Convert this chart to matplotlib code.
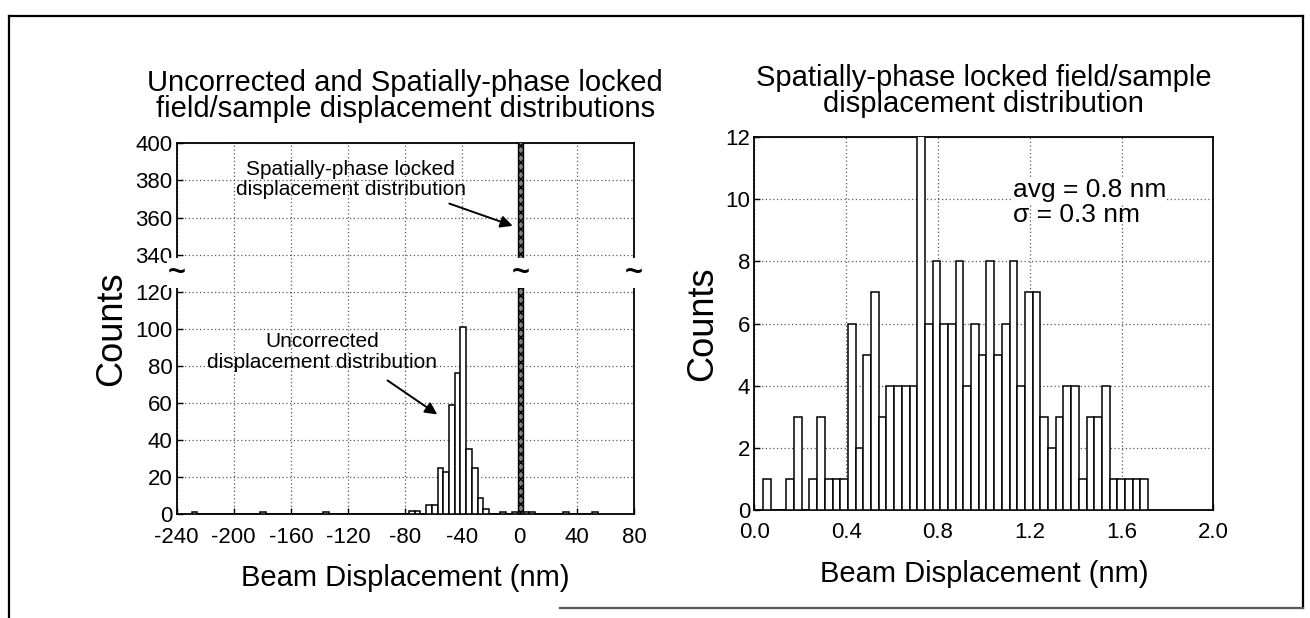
import numpy as np
import matplotlib
matplotlib.use('Agg')
import matplotlib.pyplot as plt
from matplotlib.lines import Line2D

plt.rcParams['font.family'] = ['Liberation Sans', 'DejaVu Sans']

# ---------------- data ----------------
# Left panel: uncorrected displacement histogram (4 nm bins starting at -229.4 nm)
unc_bin_start = -229.4
unc_bin_width = 4.0
unc_counts = [1, 0, 0, 0, 0, 0, 0, 0, 0, 0,
              0, 0, 1, 0, 0, 0, 0, 0, 0, 0,
              0, 0, 0, 1, 0, 0, 0, 0, 0, 0,
              0, 0, 0, 0, 0, 0, 0, 0, 2, 2,
              0, 5, 5, 25, 23, 59, 76, 101, 35, 25,
              9, 3, 0, 0, 1, 0, 1, 0, 1, 1,
              0, 0, 0, 0, 0, 1, 0, 0, 0, 0,
              1]
# spatially-phase locked distribution in the same 4 nm binning (off scale)
locked_bin_left = -1.4
locked_count = 430

left_xticks = [-240, -200, -160, -120, -80, -40, 0, 40, 80]
left_yticks = [0, 20, 40, 60, 80, 100, 120, 340, 360, 380, 400]

# Right panel: spatially-phase locked histogram (50 bins)
lock_bin_start = 0.039
lock_bin_end = 1.716
lock_counts = [1, 0, 0, 1, 3, 0, 1, 3, 1, 1,
               1, 6, 2, 5, 7, 3, 4, 4, 4, 4,
               14, 6, 8, 6, 6, 8, 4, 6, 5, 8,
               5, 6, 8, 4, 7, 7, 3, 2, 3, 4,
               4, 1, 3, 3, 4, 1, 1, 1, 1, 1]
right_xticks = [0.0, 0.4, 0.8, 1.2, 1.6, 2.0]
right_yticks = [0, 2, 4, 6, 8, 10, 12]

# ---------------- figure ----------------
W, H = 1310, 618
fig = plt.figure(figsize=(W / 100, H / 100), dpi=100)


def px_axes(x0, y0, x1, y1):
    return fig.add_axes([x0 / W, 1 - y1 / H, (x1 - x0) / W, (y1 - y0) / H])


grid_kw = dict(color='0.35', linestyle=(0, (1, 2)), linewidth=0.9)
tick_fs = 16
label_fs = 21
ylabel_fs = 26
title_fs = 21


def style(ax):
    for s in ax.spines.values():
        s.set_linewidth(1.3)
    ax.tick_params(direction='in', length=4, width=1, labelsize=tick_fs)
    ax.tick_params(axis='x', pad=9)
    ax.tick_params(axis='y', pad=3)
    ax.grid(True, **grid_kw)
    ax.set_axisbelow(True)


# piecewise (broken) y scale for left panel
def fwd(y):
    y = np.asarray(y, dtype=float)
    return np.where(y <= 120, y,
                    np.where(y >= 340, y - 200, 120 + (y - 120) * 20.0 / 220.0))


def inv(p):
    p = np.asarray(p, dtype=float)
    return np.where(p <= 120, p,
                    np.where(p >= 140, p + 200, 120 + (p - 120) * 220.0 / 20.0))


# ---- left panel ----
axL = px_axes(176.5, 143.3, 634, 514.3)
axL.set_yscale('function', functions=(fwd, inv))
axL.set_xlim(-240, 80)
axL.set_ylim(0, 400)
axL.set_xticks(left_xticks)
axL.set_yticks(left_yticks)
axL.set_xticklabels([str(v) for v in left_xticks])
axL.set_yticklabels([str(v) for v in left_yticks])
axL.yaxis.set_minor_locator(matplotlib.ticker.NullLocator())
style(axL)

unc_left = unc_bin_start + unc_bin_width * np.arange(len(unc_counts))
axL.bar(unc_left, unc_counts, width=unc_bin_width, align='edge',
        facecolor='white', edgecolor='black', linewidth=1.1, zorder=3)
axL.bar([locked_bin_left], [locked_count], width=unc_bin_width, align='edge',
        facecolor='0.5', edgecolor='black', hatch='xxxx', linewidth=1.0, zorder=3)

# break marks
brk_y = float(inv(130))
for bx in (-240, locked_bin_left + unc_bin_width / 2, 80):
    axL.text(bx, brk_y, '~', fontsize=22, fontweight='bold', ha='center', va='center',
             clip_on=False, zorder=6,
             bbox=dict(facecolor='white', edgecolor='none', pad=0.2))

axL.set_xlabel('Beam Displacement (nm)', fontsize=label_fs, labelpad=12)
axL.set_ylabel('Counts', fontsize=ylabel_fs, labelpad=4)
axL.set_title('Uncorrected and Spatially-phase locked\nfield/sample displacement distributions',
              fontsize=title_fs, linespacing=0.92, pad=19)

ann_fs = 15
axL.text(-118, 383, 'Spatially-phase locked', fontsize=ann_fs, ha='center', va='baseline', zorder=5)
axL.text(-118, 372, 'displacement distribution', fontsize=ann_fs, ha='center', va='baseline', zorder=5)
axL.annotate('', xy=(-3, 355), xytext=(-51, 368),
             arrowprops=dict(arrowstyle='-|>', color='black', lw=1.4, mutation_scale=18), zorder=5)
axL.text(-138, 90, 'Uncorrected', fontsize=ann_fs, ha='center', va='baseline', zorder=5)
axL.text(-138, 79, 'displacement distribution', fontsize=ann_fs, ha='center', va='baseline', zorder=5)
axL.annotate('', xy=(-56, 53), xytext=(-94, 73),
             arrowprops=dict(arrowstyle='-|>', color='black', lw=1.4, mutation_scale=18), zorder=5)

# ---- right panel ----
axR = px_axes(754.3, 137, 1213.3, 510)
axR.set_xlim(0, 2.0)
axR.set_ylim(0, 12)
axR.set_xticks(right_xticks)
axR.set_yticks(right_yticks)
axR.set_xticklabels([f'{v:.1f}' for v in right_xticks])
axR.set_yticklabels([str(v) for v in right_yticks])
style(axR)

edges = np.linspace(lock_bin_start, lock_bin_end, len(lock_counts) + 1)
axR.bar(edges[:-1], lock_counts, width=np.diff(edges), align='edge',
        facecolor='white', edgecolor='black', linewidth=1.1, zorder=3)

axR.text(1.126, 10.07, 'avg = 0.8 nm', fontsize=19, ha='left', va='baseline',
         zorder=5, bbox=dict(facecolor='white', edgecolor='none', pad=1))
axR.text(1.126, 9.27, 'σ = 0.3 nm', fontsize=19, ha='left', va='baseline', zorder=5)

axR.set_xlabel('Beam Displacement (nm)', fontsize=label_fs, labelpad=12)
axR.set_ylabel('Counts', fontsize=ylabel_fs, labelpad=4)
axR.set_title('Spatially-phase locked field/sample\ndisplacement distribution',
              fontsize=title_fs, linespacing=0.92, pad=18)

# ---- outer frame ----
def fline(x0, y0, x1, y1, lw=1.6, color='black'):
    fig.add_artist(Line2D([x0 / W, x1 / W], [1 - y0 / H, 1 - y1 / H],
                          color=color, linewidth=lw))

fline(9, 16, 1303, 16)
fline(9, 16, 9, 618)
fline(1303, 16, 1303, 608)
fline(560, 608, 1303, 608, color='0.35')

fig.savefig('out.png', dpi=100)
